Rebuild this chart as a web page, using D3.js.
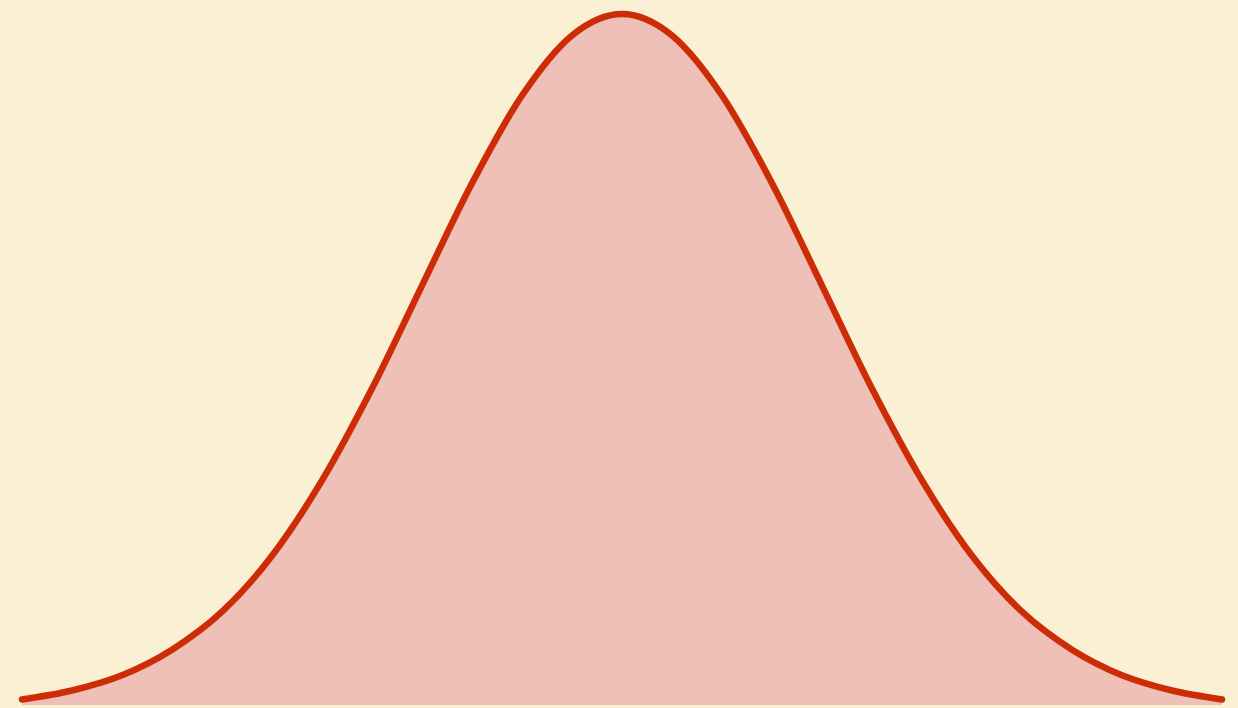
<!DOCTYPE html>
<html>
<head>
<meta charset="utf-8">
<script src="https://cdn.jsdelivr.net/npm/d3@7"></script>
<style>
    html, body { margin: 0; padding: 0; background: #faf1d4; }
    #chart svg { display: block; }
</style>
</head>
<body>
<div id="chart"></div>
<script>
// positions along the curve, in standard deviations from the centre
const positions = [-3, -2.75, -2.5, -2.25, -2, -1.75, -1.5, -1.25, -1, -0.75, -0.5, -0.25,
    0, 0.25, 0.5, 0.75, 1, 1.25, 1.5, 1.75, 2, 2.25, 2.5, 2.75, 3]
// height of the curve at each position, relative to the peak
const heights = [0.008, 0.021, 0.043, 0.080, 0.135, 0.216, 0.325, 0.458, 0.607, 0.755, 0.882, 0.969,
    1, 0.969, 0.882, 0.755, 0.607, 0.458, 0.325, 0.216, 0.135, 0.080, 0.043, 0.021, 0.008]

function draw() {
    const dataset = positions.map((p, i) => ({ x: p, y: heights[i] }))

    const dimensions = {
        width: 1238,
        height: 708,
        margin: {
            top: 14,
            bottom: 3,
            left: 22,
            right: 16,
        }
    }

    const xAccessor = d => d.x
    const yAccessor = d => d.y

    const svg = d3.select('#chart')
        .append('svg')
        .attr('width', dimensions.width)
        .attr('height', dimensions.height)

    svg.append('rect')
        .attr('width', dimensions.width)
        .attr('height', dimensions.height)
        .attr('fill', '#faf1d4')

    const xScale = d3.scaleLinear()
        .domain(d3.extent(dataset, xAccessor))
        .range([dimensions.margin.left, dimensions.width - dimensions.margin.right])

    const yScale = d3.scaleLinear()
        .domain([0, 1])
        .range([dimensions.height - dimensions.margin.bottom, dimensions.margin.top])

    const area = d3.area()
        .x(d => xScale(xAccessor(d)))
        .y0(yScale(0))
        .y1(d => yScale(yAccessor(d)))
        .curve(d3.curveMonotoneX)

    const line = d3.line()
        .x(d => xScale(xAccessor(d)))
        .y(d => yScale(yAccessor(d)))
        .curve(d3.curveMonotoneX)

    svg.append('path')
        .datum(dataset)
        .attr('d', area)
        .attr('fill', '#efc0b8')

    svg.append('path')
        .datum(dataset)
        .attr('d', line)
        .attr('fill', 'none')
        .attr('stroke', '#cc2c06')
        .attr('stroke-width', 6.5)
        .attr('stroke-linecap', 'round')
        .attr('stroke-linejoin', 'round')
}

draw()
</script>
</body>
</html>
